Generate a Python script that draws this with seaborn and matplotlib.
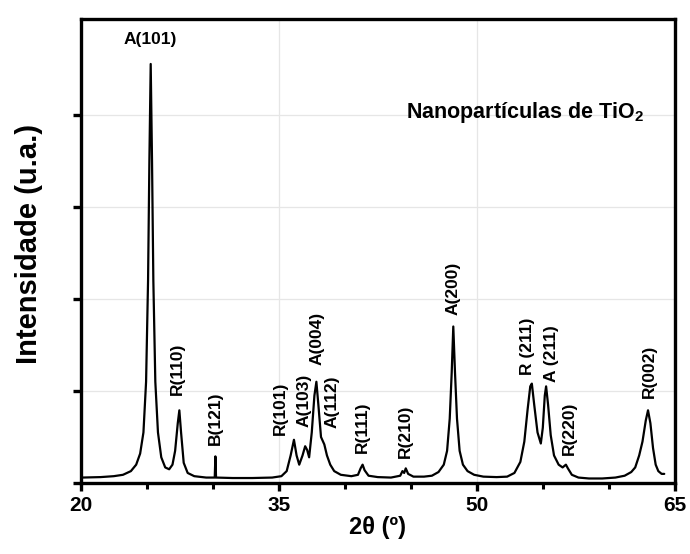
import matplotlib
matplotlib.use("Agg")
import matplotlib.pyplot as plt
import pandas as pd
import seaborn as sns

# XRD pattern (2theta in degrees, intensity in arbitrary units)
two_theta = [20.1, 21.5, 22.5, 23.2, 23.8, 24.2, 24.5, 24.75, 24.95, 25.1, 25.2, 25.3, 25.4, 25.5,
             25.65, 25.85, 26.1, 26.4, 26.7, 26.95, 27.15, 27.35, 27.47, 27.6, 27.8, 28.1, 28.6,
             29.5, 30.15, 30.2, 30.25, 31.5, 33.0, 34.5, 35.2, 35.6, 35.9, 36.15, 36.35, 36.55,
             36.8, 37.0, 37.15, 37.3, 37.5, 37.7, 37.85, 38.0, 38.2, 38.45, 38.65, 38.9, 39.2,
             39.7, 40.5, 41.0, 41.2, 41.35, 41.5, 41.8, 42.5, 43.5, 44.2, 44.37, 44.5, 44.62,
             44.8, 45.2, 46.0, 46.6, 47.1, 47.5, 47.75, 47.95, 48.1, 48.22, 48.35, 48.5, 48.7,
             48.95, 49.3, 49.8, 50.5, 51.5, 52.3, 52.85, 53.3, 53.6, 53.85, 54.05, 54.17, 54.35,
             54.6, 54.85, 55.0, 55.15, 55.25, 55.4, 55.6, 55.85, 56.2, 56.5, 56.75, 56.9, 57.2,
             57.7, 58.5, 59.5, 60.5, 61.2, 61.7, 62.0, 62.3, 62.55, 62.8, 62.97, 63.15, 63.35,
             63.55, 63.75, 64.0, 64.2]
intensity = [0.06, 0.065, 0.075, 0.09, 0.13, 0.2, 0.32, 0.55, 1.1, 2.2, 3.5, 4.55, 3.5, 2.2,
             1.1, 0.55, 0.28, 0.17, 0.15, 0.2, 0.35, 0.65, 0.79, 0.55, 0.22, 0.11, 0.075,
             0.06, 0.06, 0.29, 0.06, 0.055, 0.055, 0.06, 0.075, 0.13, 0.3, 0.47, 0.3, 0.2,
             0.3, 0.4, 0.36, 0.28, 0.55, 0.95, 1.1, 0.85, 0.5, 0.42, 0.3, 0.2, 0.13,
             0.09, 0.075, 0.09, 0.16, 0.2, 0.14, 0.08, 0.065, 0.06, 0.08, 0.13, 0.11, 0.16,
             0.1, 0.07, 0.07, 0.08, 0.12, 0.2, 0.35, 0.7, 1.2, 1.7, 1.2, 0.7, 0.35,
             0.2, 0.13, 0.09, 0.07, 0.065, 0.07, 0.11, 0.23, 0.45, 0.8, 1.05, 1.08, 0.85,
             0.55, 0.43, 0.6, 0.95, 1.05, 0.85, 0.52, 0.3, 0.2, 0.17, 0.2, 0.16, 0.09,
             0.06, 0.05, 0.05, 0.06, 0.08, 0.12, 0.17, 0.3, 0.45, 0.68, 0.79, 0.65, 0.38,
             0.2, 0.13, 0.1, 0.1]

# peak labels (text, 2theta, intensity where the label starts)
peak_labels = ["R(110)", "B(121)", "R(101)", "A(103)", "A(004)", "A(112)", "R(111)",
               "R(210)", "A(200)", "R (211)", "A (211)", "R(220)", "R(002)"]
label_x = [27.3, 30.2, 35.13, 36.9, 37.92, 39.06, 41.34, 44.62, 48.2, 53.86, 55.63, 57.02, 63.1]
label_y = [0.96, 0.41, 0.52, 0.61, 1.28, 0.6, 0.33, 0.27, 1.83, 1.17, 1.10, 0.3, 0.92]

df = pd.DataFrame({"two_theta": two_theta, "intensity": intensity})

sns.set_style("ticks")
plt.rcParams["font.family"] = ["Liberation Sans", "DejaVu Sans"]
plt.rcParams["font.weight"] = "bold"
plt.rcParams["text.color"] = "black"
plt.rcParams["axes.labelcolor"] = "black"
plt.rcParams["axes.edgecolor"] = "black"
plt.rcParams["xtick.color"] = "black"
plt.rcParams["ytick.color"] = "black"
plt.rcParams["mathtext.fontset"] = "custom"
plt.rcParams["mathtext.rm"] = "Liberation Sans:bold"
plt.rcParams["mathtext.bf"] = "Liberation Sans:bold"

fig = plt.figure(figsize=(6.9, 5.54), dpi=100)
ax = fig.add_axes([0.117, 0.128, 0.861, 0.838])

sns.lineplot(data=df, x="two_theta", y="intensity", ax=ax, color="black",
             linewidth=1.6, sort=False, estimator=None)

ax.set_xlim(20, 65)
ax.set_ylim(0, 5.04)
ax.set_xticks([20, 35, 50, 65])
ax.set_xticks([25, 30, 40, 45, 55, 60], minor=True)
ax.set_yticks([0, 1, 2, 3, 4])
ax.set_yticklabels([])
ax.grid(True, which="major", color="#e6e6e6", linewidth=0.9)
ax.set_axisbelow(True)

for s in ax.spines.values():
    s.set_linewidth(2.4)
ax.tick_params(which="major", direction="out", length=6, width=2.4, labelsize=15, pad=3)
ax.tick_params(which="minor", direction="out", length=4, width=2.2)

ax.set_xlabel("2θ (º)", fontsize=17, fontweight="bold", labelpad=1)
ax.set_ylabel("")
fig.text(0.042, 0.56, "Intensidade (u.a.)", rotation=90, ha="center", va="center",
         fontsize=21, fontweight="bold")

ax.text(25.3, 4.82, "A(101)", ha="center", va="center", fontsize=12.5, fontweight="bold")
for t, x, y in zip(peak_labels, label_x, label_y):
    ax.text(x, y, t, rotation=90, ha="center", va="bottom", fontsize=12.5, fontweight="bold")

ax.text(44.62, 4.02, "Nanopartículas de TiO$_2$", ha="left", va="center",
        fontsize=15.5, fontweight="bold")

fig.savefig("out.png", dpi=100)
